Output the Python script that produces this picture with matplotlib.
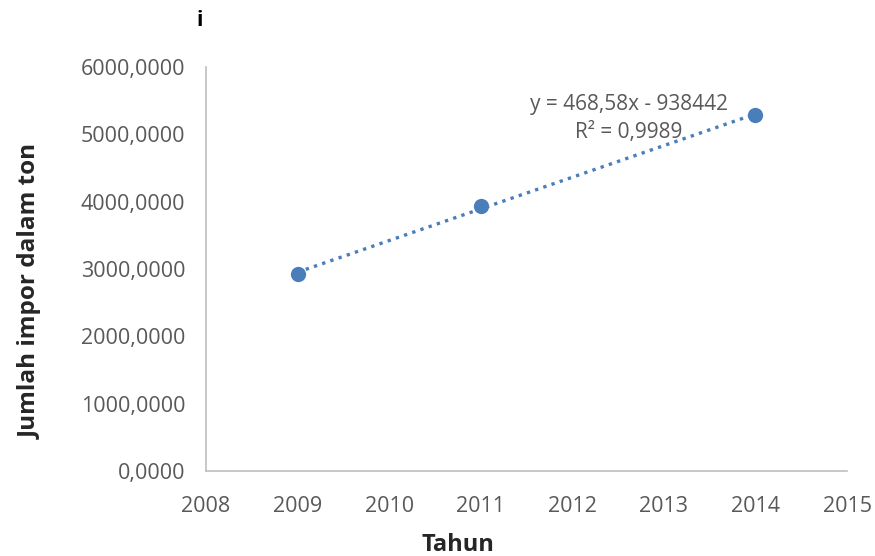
import numpy as np
import matplotlib
matplotlib.use("Agg")
import matplotlib.pyplot as plt

years = [2009, 2011, 2014]
impor = [2926, 3936, 5285]
xticks = [2008, 2009, 2010, 2011, 2012, 2013, 2014, 2015]
yticks = [0, 1000, 2000, 3000, 4000, 5000, 6000]
ytick_labels = ["0,0000", "1000,0000", "2000,0000", "3000,0000", "4000,0000", "5000,0000", "6000,0000"]
eq_text = "y = 468,58x - 938442"
r2_text = "R² = 0,9989"

plt.rcParams['font.family'] = ['Open Sans', 'DejaVu Sans']
fig = plt.figure(figsize=(8.75, 5.56), dpi=100)
ax = fig.add_axes([0.2354, 0.1529, 0.968 - 0.2354, 0.8795 - 0.1529])

color = '#4a7ebb'
coef = np.polyfit(years, impor, 1)
xs = np.array([years[0], years[-1]])
ax.plot(xs, np.polyval(coef, xs), linestyle=(0, (1, 1.6)), color=color, lw=2.4, zorder=2)
ax.plot(years, impor, 'o', color=color, markersize=11, zorder=3, markeredgewidth=0)

ax.set_xlim(2008, 2015)
ax.set_ylim(0, 6000)
ax.set_xticks(xticks)
ax.set_xticklabels([str(x) for x in xticks])
ax.set_yticks(yticks)
ax.set_yticklabels(ytick_labels)
ax.tick_params(length=0, labelsize=15.5, colors='#595959')
ax.tick_params(axis='y', pad=15)
ax.tick_params(axis='x', pad=18)
for s in ['top', 'right']:
    ax.spines[s].set_visible(False)
for s in ['left', 'bottom']:
    ax.spines[s].set_color('#bfbfbf')
    ax.spines[s].set_linewidth(1.2)

ax.set_xlabel("Tahun", fontsize=17, fontweight='bold', color='#262626')
ax.xaxis.set_label_coords(0.393, -0.153)
ax.set_ylabel("Jumlah impor dalam ton", fontsize=17.5, fontweight='bold', color='#262626')
ax.yaxis.set_label_coords(-0.254, 0.4455)

ax.text(2012.62, 5450, eq_text, ha='center', va='center', fontsize=15, color='#595959')
ax.text(2012.62, 5030, r2_text, ha='center', va='center', fontsize=15, color='#595959')

fig.text(200/875, 1 - 20/556, "i", ha='center', va='center', fontsize=15, fontweight='bold', color='black')

fig.savefig("out.png", dpi=100)
